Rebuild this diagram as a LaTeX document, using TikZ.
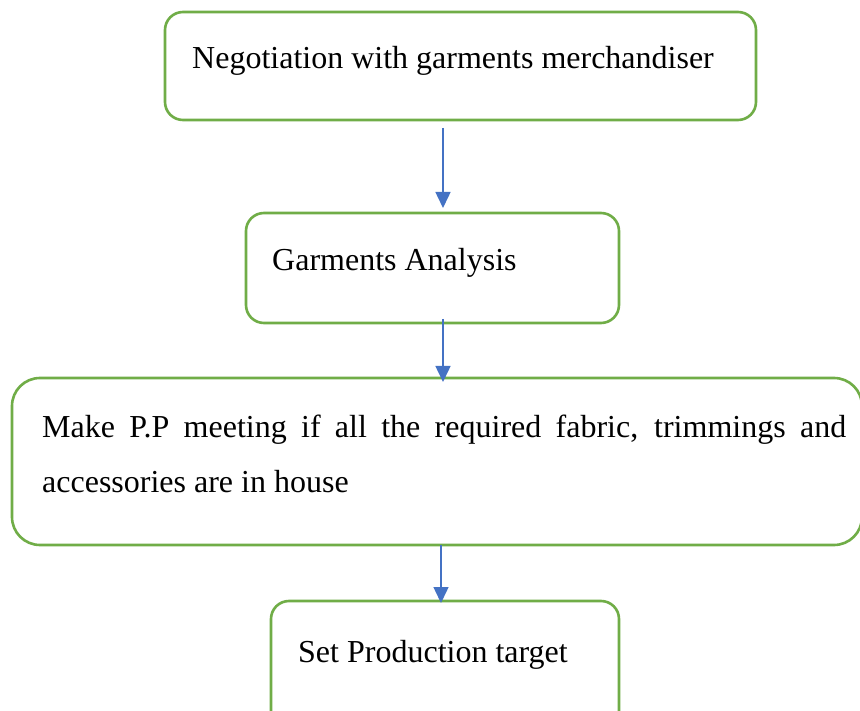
\documentclass[tikz,border=0pt]{standalone}
\usepackage{fontspec}
\setmainfont{Liberation Serif}
\usetikzlibrary{arrows.meta}
\definecolor{boxgreen}{HTML}{70AD47}
\definecolor{flowblue}{HTML}{4472C4}
\tikzset{
  stage/.style={draw=boxgreen, line width=2.6pt, rectangle, fill=none,
    inner sep=0pt, outer sep=0pt},
  label/.style={anchor=base west, inner sep=0pt, font=\fontsize{32}{38}\selectfont},
  flow/.style={draw=flowblue, line width=1.5pt,
    -{Triangle[length=16pt,width=15pt]}},
}
\begin{document}
\begin{tikzpicture}[x=1pt,y=-1pt]
\useasboundingbox (0,0) rectangle (860,711);
\fill[white] (0,0) rectangle (860,711);

% process stages
\node[stage, rounded corners=18pt, minimum width=591pt, minimum height=108pt] (neg) at (460.5,66) {};
\node[stage, rounded corners=18pt, minimum width=373pt, minimum height=110pt] (ana) at (432.5,268) {};
\node[stage, rounded corners=28pt, minimum width=850pt, minimum height=167pt] (pp) at (437,461.5) {};
\node[stage, rounded corners=18pt, minimum width=348pt, minimum height=130pt] (tgt) at (445,666) {};

% stage texts
\node[label] (negt) at (192,69) {Negotiation with garments merchandiser};
\node[label] (anat) at (272,271) {Garments Analysis};
\node[label] (ppa) at (42,437) {\makebox[804pt][s]{Make P.P meeting if all the required fabric, trimmings and}};
\node[label] (ppb) at (42,492) {accessories are in house};
\node[label] (tgtt) at (298,662) {Set Production target};

% connector columns
\coordinate (c1) at (443,0);
\coordinate (c3) at (441,0);

\draw[flow, shorten <=8pt, shorten >=5pt] (neg.south -| c1) -- (ana.north -| c1);
\draw[flow, shorten <=-4pt, shorten >=-4pt] (ana.south -| c1) -- (pp.north -| c1);
\draw[flow, shorten >=-2pt] (pp.south -| c3) -- (tgt.north -| c3);
\end{tikzpicture}
\end{document}
